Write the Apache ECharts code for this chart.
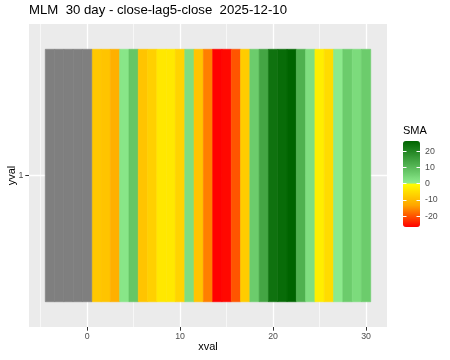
<!DOCTYPE html>
<html>
<head>
<meta charset="utf-8">
<script src="https://cdn.jsdelivr.net/npm/echarts@6.0.0/dist/echarts.min.js"></script>
<style>
body{margin:0;background:#fff;}
#chartBox{width:450px;height:360px;}
</style>
</head>
<body>
<div id="chartBox"></div>
<script>
var xval=[-4,-3,-2,-1,0,1,2,3,4,5,6,7,8,9,10,11,12,13,14,15,16,17,18,19,20,21,22,23,24,25,26,27,28,29,30];
var sma=[null,null,null,null,null,
	-8.1,-8.7,-11.7,1.5,7.6,-8.7,-6.9,-3.4,-3.4,-6.4,
	3.1,-8.7,-16.4,-26.6,-26.0,-19.7,-7.5,6.5,13.8,23.5,
	24.7,26.2,11.6,3.0,-2.5,-5.2,0.7,6.5,3.6,6.5];
var xTicks=[0,10,20,30];
var yTicks=[1];
var legendTicks=[-20,-10,0,10,20];

var font='Liberation Sans';
var vals=sma.filter(function(v){return v!=null});
var smaMin=Math.min.apply(null,vals);
var smaMax=Math.max.apply(null,vals);

// red->orange->yellow below 0, lightgreen->darkgreen above
var negCols=['#FF0000','#FFA500','#FFFF00'];
var posCols=['#90EE90','#006400'];
var stops=[];
for(var i=0;i<=200;i++){
	var v=smaMin+(smaMax-smaMin)*i/200;
	if(v<0) stops.push(echarts.color.lerp((v-smaMin)/(0-smaMin),negCols));
	else stops.push(echarts.color.lerp(v/smaMax,posCols));
}

var tiles=[],naTiles=[];
for(var i=0;i<xval.length;i++){
	if(sma[i]==null) naTiles.push([xval[i],1]);
	else tiles.push([xval[i],1,sma[i]]);
}

function renderTile(params,api){
	var p0=api.coord([api.value(0)-0.5,1.5]);
	var p1=api.coord([api.value(0)+0.5,0.5]);
	var c=api.visual('color');
	return {
		type:'rect',
		shape:{x:p0[0],y:p0[1],width:p1[0]-p0[0],height:p1[1]-p0[1]},
		style:{fill:c,stroke:c,lineWidth:0.6}
	};
}

var noLine={show:false,onZero:false};

var myChart=echarts.init(document.getElementById('chartBox'));
var option={
	animation:false,
	textStyle:{fontFamily:font},
	title:{
		text:'MLM  30 day - close-lag5-close  2025-12-10',
		left:29,
		top:4,
		padding:0,
		textStyle:{fontFamily:font,fontSize:13.2,fontWeight:'normal',color:'#000'}
	},
	grid:[
		{left:29,right:63,top:24,bottom:33,show:true,backgroundColor:'#EBEBEB',borderWidth:0,containLabel:false,outerBoundsMode:'none'},
		{left:403,top:141,width:17,height:86,show:false,containLabel:false,outerBoundsMode:'none'}
	],
	visualMap:{
		type:'continuous',
		seriesIndex:0,
		dimension:2,
		min:smaMin,
		max:smaMax,
		calculable:false,
		hoverLink:false,
		left:403,
		top:141,
		padding:0,
		itemWidth:17,
		itemHeight:86,
		text:null,
		inRange:{color:stops}
	},
	xAxis:[
		{
			gridIndex:0,
			type:'value',
			min:-6.25,
			max:32.25,
			minInterval:10,
			maxInterval:10,
			name:'xval',
			nameLocation:'middle',
			nameGap:14,
			nameMoveOverlap:false,
			nameTextStyle:{fontFamily:font,fontSize:11,color:'#000'},
			axisLine:noLine,
			axisTick:{show:true,customValues:xTicks,length:3.7,lineStyle:{color:'#333333',width:1}},
			axisLabel:{customValues:xTicks,showMinLabel:true,showMaxLabel:true,margin:5,fontFamily:font,fontSize:8.8,color:'#4D4D4D'},
			splitLine:{show:true,lineStyle:{color:'#FFFFFF',width:1.3}},
			minorTick:{show:false,splitNumber:2},
			minorSplitLine:{show:true,lineStyle:{color:'#FFFFFF',width:0.6}}
		},
		{gridIndex:1,type:'value',min:0,max:1,show:false}
	],
	yAxis:[
		{
			gridIndex:0,
			type:'value',
			min:0.4,
			max:1.6,
			minInterval:1,
			maxInterval:1,
			name:'yval',
			nameLocation:'middle',
			nameGap:12,
			nameMoveOverlap:false,
			nameTextStyle:{fontFamily:font,fontSize:11,color:'#000'},
			axisLine:noLine,
			axisTick:{show:true,customValues:yTicks,length:3.7,lineStyle:{color:'#333333',width:1}},
			axisLabel:{customValues:yTicks,showMinLabel:true,showMaxLabel:true,margin:5.5,fontFamily:font,fontSize:8.8,color:'#4D4D4D'},
			splitLine:{show:true,lineStyle:{color:'#FFFFFF',width:1.3}}
		},
		{
			gridIndex:1,
			type:'value',
			position:'left',
			min:smaMin,
			max:smaMax,
			name:'SMA',
			nameLocation:'end',
			nameGap:5,
			nameTextStyle:{fontFamily:font,fontSize:11,color:'#000',align:'left'},
			axisLine:noLine,
			axisTick:{show:true,inside:true,customValues:legendTicks,length:3.5,lineStyle:{color:'#FFFFFF',width:1}},
			axisLabel:{show:false},
			splitLine:{show:false},
			z:5
		},
		{
			gridIndex:1,
			type:'value',
			position:'right',
			min:smaMin,
			max:smaMax,
			axisLine:noLine,
			axisTick:{show:true,inside:true,customValues:legendTicks,length:3.5,lineStyle:{color:'#FFFFFF',width:1}},
			axisLabel:{customValues:legendTicks,showMinLabel:true,showMaxLabel:true,margin:5,fontFamily:font,fontSize:8.8,color:'#4D4D4D'},
			splitLine:{show:false},
			z:5
		}
	],
	series:[
		{
			name:'SMA',
			type:'custom',
			xAxisIndex:0,
			yAxisIndex:0,
			renderItem:renderTile,
			encode:{x:0,y:1},
			data:tiles,
			z:3
		},
		{
			name:'NA',
			type:'custom',
			xAxisIndex:0,
			yAxisIndex:0,
			renderItem:renderTile,
			encode:{x:0,y:1},
			itemStyle:{color:'#7F7F7F'},
			data:naTiles,
			z:3
		}
	]
};
myChart.setOption(option);
</script>
</body>
</html>
